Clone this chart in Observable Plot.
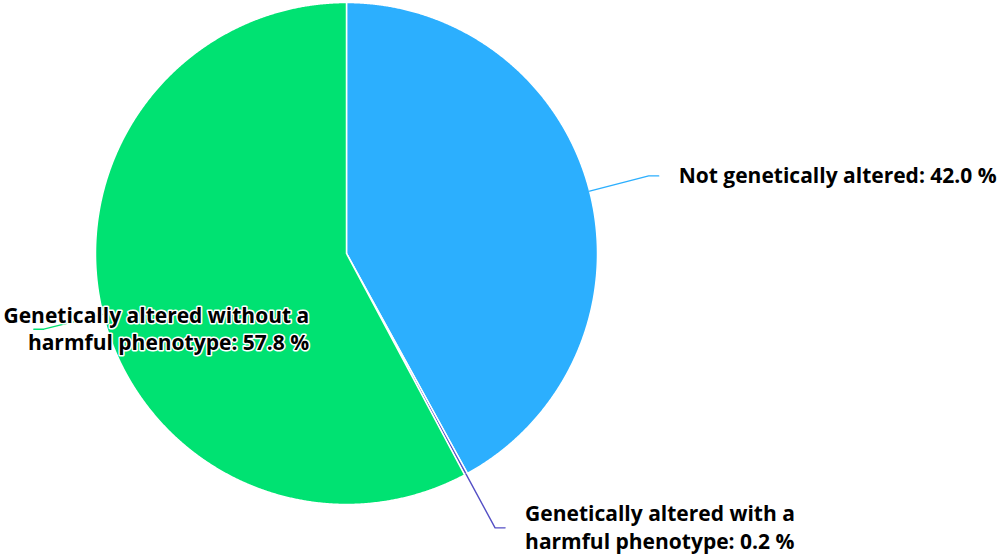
<!DOCTYPE html>
<html><head><meta charset="utf-8">
<script src="https://cdn.jsdelivr.net/npm/d3@7"></script>
<script src="https://cdn.jsdelivr.net/npm/@observablehq/plot@0.6"></script>
<style>html,body{margin:0;padding:0;background:#fff;overflow:hidden}</style>
</head><body><div id="chart"></div>
<script>
// ---- data ----
const categories = [
  "Not genetically altered",
  "Genetically altered with a harmful phenotype",
  "Genetically altered without a harmful phenotype"
];
const shares = [42.0, 0.2, 57.8];
const colors = ["#2caffe", "#544fc5", "#00e272"];

// ---- layout ----
const W = 998, H = 555, R = 251, CX = 346, CY = 253;
const FONT_SIZE = 21, FONT_FAMILY = '"Open Sans", sans-serif';
const px = v => v / R; // pixels -> radius units

const arcs = d3.pie().sort(null).value(d => d)(shares);

// slice polygons
const slicePts = [];
arcs.forEach((a, i) => {
  const n = Math.max(2, Math.ceil((a.endAngle - a.startAngle) / 0.004));
  slicePts.push({k: i, x: 0, y: 0});
  for (let j = 0; j <= n; j++) {
    const t = a.startAngle + (a.endAngle - a.startAngle) * j / n;
    slicePts.push({k: i, x: Math.sin(t), y: Math.cos(t)});
  }
  slicePts.push({k: i, x: 0, y: 0});
});

// wrap labels
function wrap(s) {
  const idx = s.indexOf(" harmful");
  return idx > 0 ? s.slice(0, idx) + "\n" + s.slice(idx + 1) : s;
}
const ctx = document.createElement("canvas").getContext("2d");
ctx.font = `bold ${FONT_SIZE}px ${FONT_FAMILY}`;

const connPts = [];
const labels = [];
arcs.forEach((a, i) => {
  const m = (a.startAngle + a.endAngle) / 2;
  const sx = Math.sin(m), sy = Math.cos(m);
  const right = sx >= 0;
  const bx = sx * (1 + px(61)), by = sy * (1 + px(61));
  const ex = bx + (right ? px(10) : -px(10));
  connPts.push({k: i, x: sx, y: sy}, {k: i, x: bx, y: by}, {k: i, x: ex, y: by});
  const text = wrap(categories[i]) + ": " + shares[i].toFixed(1) + " %";
  const wMax = d3.max(text.split("\n"), l => ctx.measureText(l).width);
  let lx = ex + (right ? px(20) : -px(20));
  if (!right) {
    // justify inside the plot area
    const minX = -CX / R + px(3) + px(wMax);
    lx = Math.max(lx, minX);
  }
  labels.push({k: i, x: lx, y: by + px(1.5), text, right});
});

const chart = Plot.plot({
  width: W, height: H, margin: 0,
  x: {domain: [-CX / R, (W - CX) / R], axis: null},
  y: {domain: [-(H - CY) / R, CY / R], axis: null},
  marks: [
    Plot.line(slicePts, {
      x: "x", y: "y", z: "k", curve: "linear",
      fill: d => colors[d.k], stroke: "white", strokeWidth: 1.5, strokeLinejoin: "round"
    }),
    Plot.line(connPts, {
      x: "x", y: "y", z: "k", curve: "linear",
      stroke: d => colors[d.k], strokeWidth: 1.4
    }),
    Plot.text(labels.filter(d => d.right), {
      x: "x", y: "y", text: "text", textAnchor: "start", lineAnchor: "middle",
      fontSize: FONT_SIZE, fontWeight: "bold", fontFamily: FONT_FAMILY, lineHeight: 1.29,
      fill: "#000", stroke: "white", strokeWidth: 3
    }),
    Plot.text(labels.filter(d => !d.right), {
      x: "x", y: "y", text: "text", textAnchor: "end", lineAnchor: "middle",
      fontSize: FONT_SIZE, fontWeight: "bold", fontFamily: FONT_FAMILY, lineHeight: 1.29,
      fill: "#000", stroke: "white", strokeWidth: 3
    })
  ]
});
document.getElementById("chart").appendChild(chart);
</script>
</body></html>
